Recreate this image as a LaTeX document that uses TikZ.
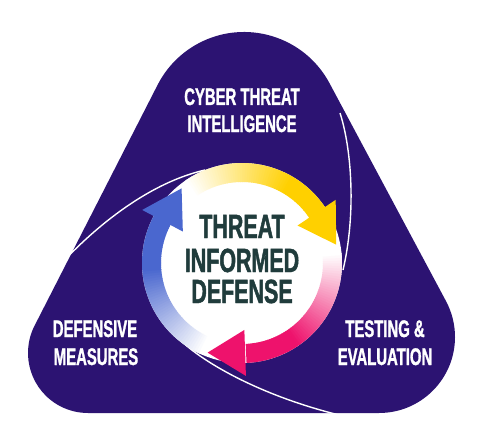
\documentclass[tikz,border=0pt]{standalone}
\usepackage{fontspec}
\newfontfamily\labfont{Liberation Sans}[FakeStretch=0.62,FakeBold=1.2]
\newfontfamily\cenfont{Liberation Sans}[FakeStretch=0.64,FakeBold=1.4]
\definecolor{purp}{RGB}{44,19,114}
\definecolor{yel}{RGB}{255,208,0}
\definecolor{pnk}{RGB}{238,18,108}
\definecolor{blu}{RGB}{74,103,207}
\definecolor{txtc}{RGB}{32,60,60}
\begin{document}
\begin{tikzpicture}[x=1pt,y=1pt,
  lab/.style={font=\labfont\bfseries\fontsize{24}{28}\selectfont, text=white, anchor=base, inner sep=0pt},
  cen/.style={font=\cenfont\bfseries\fontsize{33.5}{36}\selectfont, text=txtc, anchor=base, inner sep=0pt},
  sepline/.style={draw=white, line width=1.4pt}]
\useasboundingbox (0,0) rectangle (500,440);
\fill[white] (0,0) rectangle (500,440);
% rounded triangle
\coordinate (tc) at (244,311);
\coordinate (lc) at (88,87);
\coordinate (rc) at (379,103);
\fill[purp] ([shift={(28:97)}]tc) arc[start angle=28,end angle=153,radius=97]
  -- ([shift={(153:60)}]lc) arc[start angle=153,end angle=270,radius=60]
  -- ([shift={(270:76)}]rc) arc[start angle=270,end angle=388,radius=76] -- cycle;
% separator lines
\coordinate (r1) at (340,327); \coordinate (r2) at (343,170);
\coordinate (l1) at (45,158);  \coordinate (l2) at (205,270);
\coordinate (b1) at (178,102); \coordinate (b2) at (352,22);
\draw[sepline] (r1) .. controls (352,290) and (356,225) .. (r2);
\draw[sepline] (l1) .. controls (80,200) and (140,255) .. (l2);
\draw[sepline] (b1) .. controls (205,75) and (270,40) .. (b2);
% central disk
\coordinate (c) at (242,177);
\fill[white] (c) circle[radius=100];
% gradient bands
\foreach \col/\S/\F/\E in {yel/125/60/33, pnk/6/-55/-87, blu/246/185/152}{
  \foreach \k in {0,...,59}{
    \pgfmathsetmacro\a{\S-\k*(\S-\E)/60}
    \pgfmathsetmacro\b{\a-(\S-\E)/60-0.4}
    \pgfmathsetmacro\p{max(0,min(100,(\S-\a)/(\S-\F)*100))}
    \fill[\col!\p!white] ([shift={(\a:100)}]c) arc[start angle=\a,end angle=\b,radius=100]
      -- ([shift={(\b:81)}]c) arc[start angle=\b,end angle=\a,radius=81] -- cycle;
  }
}
% arrow heads
\foreach \col/\B in {yel/34, pnk/272, blu/152}{
  \pgfmathsetmacro\T{\B-23}
  \fill[\col] ([shift={(\B:67)}]c) -- ([shift={(\B:113)}]c) -- ([shift={(\T:96)}]c) -- cycle;
}
% texts
\node[lab] (cti1) at (242,335) {CYBER THREAT};
\node[lab] (cti2) at (242,308) {INTELLIGENCE};
\node[cen] (tid1) at (242,202) {THREAT};
\node[cen] (tid2) at (242,168) {INFORMED};
\node[cen] (tid3) at (242,137) {DEFENSE};
\node[lab] (dm1) at (95,103) {DEFENSIVE};
\node[lab] (dm2) at (96,75) {MEASURES};
\node[lab] (te1) at (385,103) {TESTING \&};
\node[lab] (te2) at (385,75) {EVALUATION};
\end{tikzpicture}
\end{document}
